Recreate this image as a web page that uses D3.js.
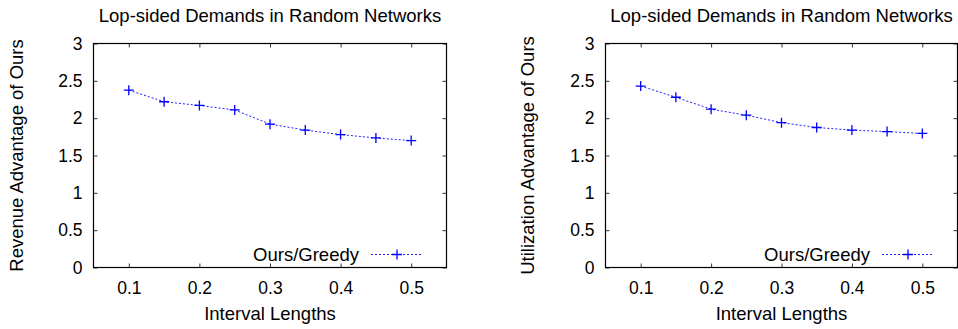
<!DOCTYPE html>
<html>
<head>
<meta charset="utf-8">
<script src="https://cdn.jsdelivr.net/npm/d3@7"></script>
<style>
  html, body { margin: 0; padding: 0; background: #fff; }
  svg { display: block; }
  text { font-family: "Liberation Sans", Arial, Helvetica, sans-serif; fill: #000; }
</style>
</head>
<body>
<svg id="chart" width="958" height="329"></svg>
<script>
// ---- data ----
const intervals = [0.1, 0.15, 0.2, 0.25, 0.3, 0.35, 0.4, 0.45, 0.5];
const revenueAdvantage = [2.375, 2.22, 2.17, 2.11, 1.92, 1.84, 1.78, 1.735, 1.70];
const utilizationAdvantage = [2.43, 2.28, 2.12, 2.04, 1.94, 1.875, 1.84, 1.82, 1.795];
const xTickValues = [0.1, 0.2, 0.3, 0.4, 0.5];
const yTickValues = [0, 0.5, 1, 1.5, 2, 2.5, 3];
const titles = ["Lop-sided Demands in Random Networks", "Lop-sided Demands in Random Networks"];
const yLabels = ["Revenue Advantage of Ours", "Utilization Advantage of Ours"];
const xLabel = "Interval Lengths";
const seriesName = "Ours/Greedy";

const svg = d3.select("#chart");
const FS = 18.5;
const TFS = 17.5;

const panels = [
  { left: 93.5, right: 446.5, values: revenueAdvantage, title: titles[0], ylab: yLabels[0], ylabX: 23 },
  { left: 605.5, right: 957.5, values: utilizationAdvantage, title: titles[1], ylab: yLabels[1], ylabX: 534 }
];
const plotTop = 43.5, plotBottom = 267.5;

panels.forEach(p => {
  const x = d3.scaleLinear().domain([0.05, 0.55]).range([p.left, p.right]);
  const y = d3.scaleLinear().domain([0, 3]).range([plotBottom, plotTop]);
  const g = svg.append("g");

  const fmt = d3.format("");
  const axB = g.append("g").attr("transform", `translate(0,${plotBottom})`)
    .call(d3.axisBottom(x).tickValues(xTickValues).tickFormat(d3.format(".1f")).tickSizeInner(-4).tickSizeOuter(0).tickPadding(14));
  const axT = g.append("g").attr("transform", `translate(0,${plotTop})`)
    .call(d3.axisTop(x).tickValues(xTickValues).tickFormat("").tickSizeInner(-4).tickSizeOuter(0));
  const axL = g.append("g").attr("transform", `translate(${p.left},0)`)
    .call(d3.axisLeft(y).tickValues(yTickValues).tickFormat(fmt).tickSizeInner(-4).tickSizeOuter(0).tickPadding(11));
  const axR = g.append("g").attr("transform", `translate(${p.right},0)`)
    .call(d3.axisRight(y).tickValues(yTickValues).tickFormat("").tickSizeInner(-4).tickSizeOuter(0));
  [axB, axT, axL, axR].forEach(a => {
    a.select(".domain").remove();
    a.selectAll(".tick line").attr("stroke", "#333").attr("stroke-width", 1);
    a.selectAll("text").attr("font-size", TFS).attr("font-family", '"Liberation Sans", Arial, sans-serif').attr("fill", "#000");
  });
  axB.selectAll("text").attr("dy", "0.71em");

  g.append("rect")
    .attr("x", p.left).attr("y", plotTop)
    .attr("width", p.right - p.left).attr("height", plotBottom - plotTop)
    .attr("fill", "none").attr("stroke", "#000").attr("stroke-width", 1.2);

  g.append("text")
    .attr("x", (p.left + p.right) / 2).attr("y", 22)
    .attr("text-anchor", "middle").attr("font-size", FS)
    .text(p.title);

  g.append("text")
    .attr("x", (p.left + p.right) / 2).attr("y", 320)
    .attr("text-anchor", "middle").attr("font-size", FS)
    .text(xLabel);

  g.append("text")
    .attr("transform", `translate(${p.ylabX},${(plotTop + plotBottom) / 2}) rotate(-90)`)
    .attr("text-anchor", "middle").attr("font-size", FS)
    .text(p.ylab);

  const data = intervals.map((v, i) => [v, p.values[i]]);
  g.append("path")
    .datum(data)
    .attr("fill", "none")
    .attr("stroke", "#2020ff")
    .attr("stroke-width", 1)
    .attr("stroke-dasharray", "2,2")
    .attr("d", d3.line().x(d => x(d[0])).y(d => y(d[1])));

  const plus = (sel, cx, cy) => {
    sel.append("path")
      .attr("d", `M${cx - 5},${cy}H${cx + 5}M${cx},${cy - 5}V${cy + 5}`)
      .attr("stroke", "#0000ff").attr("stroke-width", 1.3).attr("fill", "none");
  };
  data.forEach(d => plus(g, x(d[0]), y(d[1])));

  const ly = 254.5;
  g.append("text")
    .attr("x", p.right - 87.5).attr("y", 261)
    .attr("text-anchor", "end").attr("font-size", FS)
    .text(seriesName);
  g.append("line")
    .attr("x1", p.right - 75.5).attr("x2", p.right - 23.5)
    .attr("y1", ly).attr("y2", ly)
    .attr("stroke", "#2020ff").attr("stroke-width", 1).attr("stroke-dasharray", "2,2");
  plus(g, p.right - 49.5, ly);
});
</script>
</body>
</html>
